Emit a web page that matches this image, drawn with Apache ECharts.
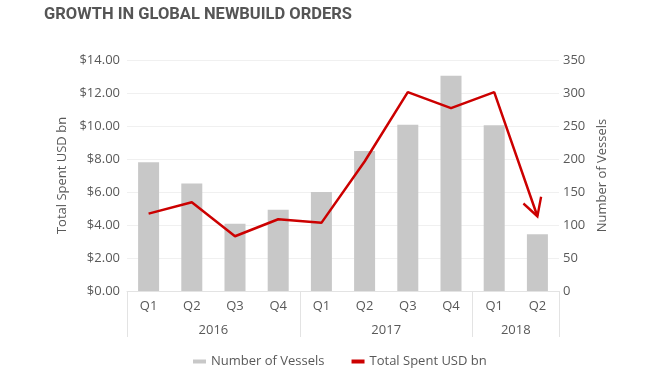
<!DOCTYPE html>
<html>
<head>
<meta charset="utf-8">
<script src="https://cdn.jsdelivr.net/npm/echarts@6/dist/echarts.min.js"></script>
<style>html,body{margin:0;padding:0;background:#fff}#c{width:670px;height:380px}</style>
</head>
<body>
<div id="c"></div>
<script>
var quarters = ['Q1','Q2','Q3','Q4','Q1','Q2','Q3','Q4','Q1','Q2'];
var years = ['2016','2017','2018'];
var yearSpans = [4, 4, 2];
var vessels = [195, 163, 102, 123, 150, 212, 252, 326, 251, 86];
var spent = [4.69, 5.38, 3.32, 4.35, 4.13, 7.85, 12.05, 11.08, 12.05, 4.53];

var FONT = 'Open Sans';
var TXT = '#595959';
var LIGHT = '#e3e3e3';
var FS = 13;

var bounds = [0], centers = [];
yearSpans.forEach(function (s, i) { centers.push(bounds[i] + s / 2); bounds.push(bounds[i] + s); });

var spentData = spent.map(function (v, i) {
  if (i === spent.length - 1) {
    return {
      value: v,
      symbol: 'path://M0,6.7 L14,19.4 L17.7,0',
      symbolSize: [17.7, 19.4],
      symbolOffset: [-5.15, -9.7],
      itemStyle: { color: 'none', borderColor: '#cc0000', borderWidth: 2.5 }
    };
  }
  return v;
});

var chart = echarts.init(document.getElementById('c'));
chart.setOption({
  animation: false,
  textStyle: { fontFamily: FONT },
  title: {
    text: 'GROWTH IN GLOBAL NEWBUILD ORDERS',
    left: 39, top: 1,
    textStyle: { fontFamily: 'Roboto', fontSize: 16.5, fontWeight: 'bold', color: '#555555' }
  },
  grid: { left: 127, right: 111, top: 60, bottom: 89, containLabel: false },
  legend: {
    bottom: 7, left: 188,
    itemWidth: 13, itemHeight: 4, itemGap: 27,
    textStyle: { color: TXT, fontSize: FS, fontFamily: FONT },
    data: [{ name: 'Number of Vessels', icon: 'rect' }, { name: 'Total Spent USD bn', icon: 'rect' }]
  },
  xAxis: [{
    type: 'category', data: quarters, position: 'bottom',
    axisLine: { lineStyle: { color: LIGHT } },
    axisTick: { show: false },
    axisLabel: { color: TXT, fontSize: FS, margin: 9 }
  }, {
    type: 'value', min: 0, max: bounds[bounds.length - 1], position: 'bottom', offset: 0,
    axisLine: { show: false },
    splitLine: { show: false },
    axisTick: { show: true, customValues: bounds, length: 46, lineStyle: { color: LIGHT } },
    axisLabel: {
      customValues: centers, color: TXT, fontSize: FS, margin: 33,
      formatter: function (v) { var k = centers.indexOf(v); return k >= 0 ? years[k] : ''; }
    }
  }],
  yAxis: [{
    type: 'value', min: 0, max: 14, interval: 2, position: 'left',
    name: 'Total Spent USD bn', nameLocation: 'middle', nameGap: 57, nameRotate: 90,
    nameTextStyle: { color: TXT, fontSize: FS },
    axisLine: { show: false }, axisTick: { show: false },
    axisLabel: { color: TXT, fontSize: FS, margin: 7, formatter: function (v) { return '$' + v.toFixed(2); } },
    splitLine: { lineStyle: { color: '#f0f0f0' } }
  }, {
    type: 'value', min: 0, max: 350, interval: 50, position: 'right',
    name: 'Number of Vessels', nameLocation: 'middle', nameGap: 37, nameRotate: 90,
    nameTextStyle: { color: TXT, fontSize: FS },
    axisLine: { show: false }, axisTick: { show: false },
    axisLabel: { color: TXT, fontSize: FS, margin: 4 },
    splitLine: { show: false }
  }],
  series: [{
    name: 'Number of Vessels', type: 'bar', xAxisIndex: 0, yAxisIndex: 1,
    data: vessels, barWidth: 21,
    itemStyle: { color: '#c8c8c8' }
  }, {
    name: 'Total Spent USD bn', type: 'line', xAxisIndex: 0, yAxisIndex: 0,
    data: spentData, showSymbol: true, symbol: 'none',
    lineStyle: { color: '#cc0000', width: 2.5 },
    itemStyle: { color: '#cc0000' }
  }]
});
</script>
</body>
</html>
